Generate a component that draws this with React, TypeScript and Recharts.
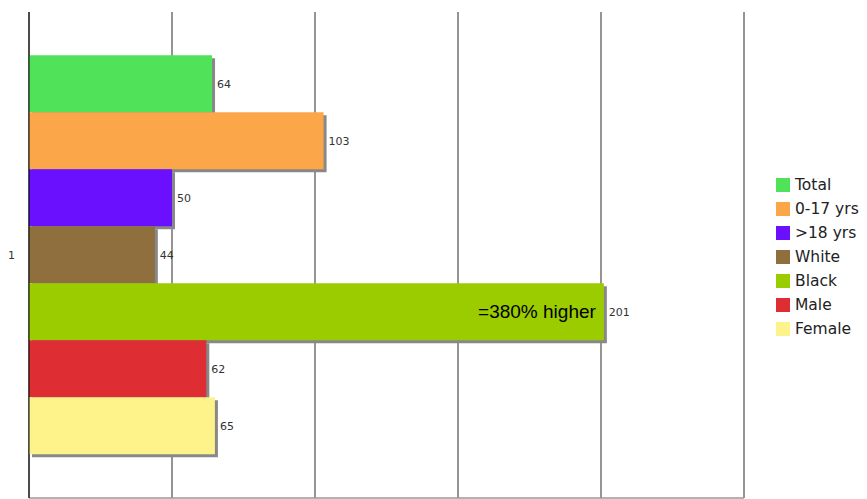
import React from 'react';
import { BarChart, Bar, XAxis, YAxis, CartesianGrid, LabelList } from 'recharts';

const categories = ['1'];
const seriesNames = ['Total', '0-17 yrs', '>18 yrs', 'White', 'Black', 'Male', 'Female'];
const seriesValues = [64, 103, 50, 44, 201, 62, 65];
const COLORS = ['#50E35A', '#FCA64A', '#6B0FFF', '#8E6F3D', '#9BCC00', '#DE2D33', '#FEF28B'];
const xTicks = [0, 50, 100, 150, 200, 250];
const blackNote = '=380% higher';

const data = categories.map((name) => {
    const row: Record<string, string | number> = { name };
    seriesNames.forEach((s, i) => {
        row[s] = seriesValues[i];
    });
    return row;
});

// bar with a grey drop shadow offset down and to the right
const ShadowBar = (props: any) => {
    const { x, y, width, height, fill } = props;
    if (!width || !height) return null;
    return (
        <g>
            <rect x={x + 3} y={y + 3} width={width} height={height} fill="#888" />
            <rect x={x} y={y} width={width} height={height} fill={fill} />
        </g>
    );
};

const EmptyTick = () => <g />;

const CustomLegend = () => (
    <div
        style={{
            position: 'absolute',
            left: 776,
            top: 173,
            fontFamily: 'DejaVu Sans, Verdana, sans-serif',
            fontSize: 15.5,
            color: '#222',
        }}
    >
        {seriesNames.map((name, index) => (
            <div key={name} style={{ display: 'flex', alignItems: 'center', height: 24 }}>
                <span style={{ width: 14, height: 14, backgroundColor: COLORS[index], marginRight: 5, flexShrink: 0 }}></span>
                <span style={{ whiteSpace: 'nowrap' }}>{name}</span>
            </div>
        ))}
    </div>
);

const App: React.FC = () => {
    return (
        <div style={{ position: 'absolute', left: 0, top: 0, width: 867, height: 499 }}>
            <BarChart
                width={867}
                height={499}
                data={data}
                layout="vertical"
                margin={{ top: 12, right: 123, left: 0, bottom: 0 }}
                barCategoryGap="8.9%"
                barGap={0}
            >
                <CartesianGrid horizontal={false} stroke="#2a2a2a" />
                <XAxis
                    type="number"
                    domain={[0, 250]}
                    ticks={xTicks}
                    tick={<EmptyTick />}
                    tickLine={false}
                    height={1}
                    axisLine={{ stroke: '#999', strokeWidth: 1.5 }}
                />
                <YAxis
                    type="category"
                    dataKey="name"
                    width={29}
                    tickLine={false}
                    tickMargin={8}
                    axisLine={{ stroke: '#000' }}
                    tick={{ fontSize: 11, fill: '#333', fontFamily: 'DejaVu Sans, Verdana, sans-serif' }}
                />
                {seriesNames.map((name, index) => (
                    <Bar
                        key={name}
                        dataKey={name}
                        fill={COLORS[index]}
                        shape={<ShadowBar />}
                        isAnimationActive={false}
                    >
                        <LabelList
                            dataKey={name}
                            position="right"
                            offset={5}
                            style={{ fontSize: 11, fill: '#333', fontFamily: 'DejaVu Sans, Verdana, sans-serif' }}
                        />
                        {name === 'Black' && (
                            <LabelList
                                dataKey={name}
                                position="insideRight"
                                offset={8}
                                formatter={() => blackNote}
                                style={{ fontSize: 19, fill: '#000', fontFamily: 'Liberation Sans, Arial, sans-serif' }}
                            />
                        )}
                    </Bar>
                ))}
            </BarChart>
            <CustomLegend />
        </div>
    );
};

export default App;
